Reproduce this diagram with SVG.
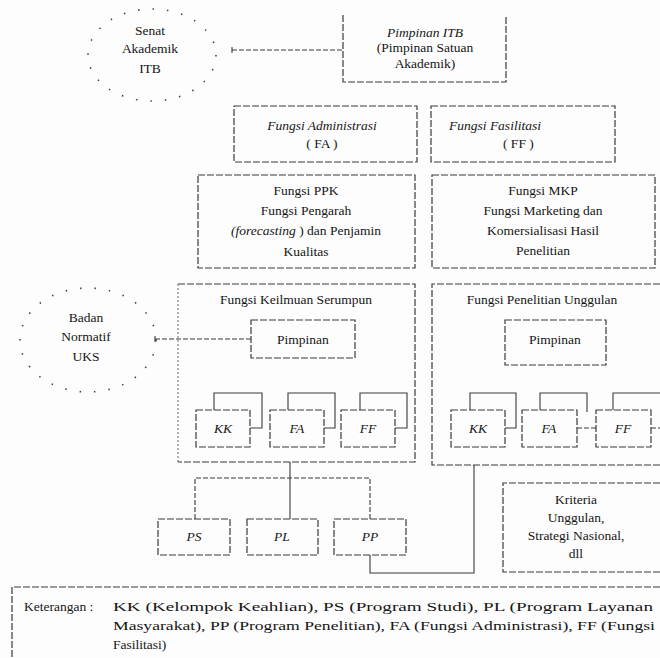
<svg xmlns="http://www.w3.org/2000/svg" width="660" height="658" viewBox="0 0 660 658">
<style>
text{font-family:"Liberation Serif","Times New Roman",serif;fill:#151515;font-size:13.5px}
.c{text-anchor:middle}
.i{font-style:italic}
.b{fill:none;stroke:#3a3a3a;stroke-width:1.2;stroke-dasharray:7 2}
.s{fill:none;stroke:#666;stroke-width:1;stroke-dasharray:2 2}
.ln{fill:none;stroke:#3a3a3a;stroke-width:1.1;stroke-dasharray:5 2}
.sol{fill:none;stroke:#3a3a3a;stroke-width:1.1}
.dot{fill:none;stroke:#444;stroke-width:1.6;stroke-dasharray:1.5 13}
</style>
<rect width="660" height="658" fill="#fdfdfd"/>

<g id="connectors">
  <path class="ln" d="M232 50 H343"/>
  <path class="sol" d="M232 47 V53"/>
  <path class="ln" d="M155 339 H251"/>
  <path class="sol" d="M155 336 V342"/>
  <path class="sol" d="M214 410 V393 H262 V428 H250"/>
  <path class="sol" d="M288 410 V393 H335 V428 H324"/>
  <path class="sol" d="M360 410 V393 H407 V428 H395"/>
  <path class="sol" d="M470 410 V393 H516 V428 H505"/>
  <path class="sol" d="M540 410 V393 H587 V412"/>
  <path class="ln" d="M577 428 H596"/>
  <path class="sol" d="M613 410 V393 H660"/>
  <path class="ln" d="M651 428 H660"/>
  <path class="sol" d="M290 462 V519"/>
  <path class="ln" d="M195 519 V478 H370 V519"/>
  <path class="sol" d="M370 555 V573 H474 V465"/>
</g>

<g id="senat">
  <ellipse class="dot" cx="152" cy="55" rx="64" ry="46"/>
  <text class="c" x="150" y="35">Senat</text>
  <text class="c" x="150" y="53">Akademik</text>
  <text class="c" x="150" y="73">ITB</text>
</g>

<g id="pimpinan-itb">
  <path class="b" d="M343 15 V82 H506 V15"/>
  <text class="c i" x="425" y="37">Pimpinan ITB</text>
  <text class="c" x="425" y="52">(Pimpinan Satuan</text>
  <text class="c" x="425" y="68">Akademik)</text>
</g>

<g id="fa">
  <rect class="b" x="234" y="106" width="183" height="56"/>
  <text class="c i" x="322" y="130">Fungsi Administrasi</text>
  <text class="c" x="322" y="148">( FA )</text>
</g>

<g id="ff">
  <rect class="b" x="431" y="106" width="184" height="56"/>
  <text class="i" x="449" y="130">Fungsi Fasilitasi</text>
  <text x="503" y="148">( FF )</text>
</g>

<g id="ppk">
  <rect class="b" x="198" y="175" width="217" height="93"/>
  <text class="c" x="306" y="195">Fungsi PPK</text>
  <text class="c" x="306" y="215">Fungsi Pengarah</text>
  <text class="c" x="306" y="235"><tspan class="i">(forecasting</tspan> ) dan Penjamin</text>
  <text class="c" x="306" y="256">Kualitas</text>
</g>

<g id="mkp">
  <rect class="b" x="432" y="175" width="223" height="93"/>
  <text class="c" x="543" y="195">Fungsi MKP</text>
  <text class="c" x="543" y="215">Fungsi Marketing dan</text>
  <text class="c" x="543" y="235">Komersialisasi Hasil</text>
  <text class="c" x="543" y="255">Penelitian</text>
</g>

<g id="badan-normatif">
  <ellipse class="dot" cx="88" cy="340" rx="68" ry="52"/>
  <text class="c" x="86" y="322">Badan</text>
  <text class="c" x="86" y="341">Normatif</text>
  <text class="c" x="86" y="361">UKS</text>
</g>

<g id="fungsi-keilmuan">
  <path class="b" d="M178 284 H415 V462 H178"/>
  <path class="s" d="M178 284 V462"/>
  <text class="c" x="296" y="304">Fungsi Keilmuan Serumpun</text>
</g>
<g id="pimpinan-left">
  <rect class="b" x="251" y="320" width="104" height="38"/>
  <text class="c" x="303" y="344">Pimpinan</text>
</g>
<g id="kk-left">
  <rect class="b" x="196" y="410" width="54" height="37"/>
  <text class="c i" x="223" y="433">KK</text>
</g>
<g id="fa-left">
  <rect class="b" x="270" y="410" width="54" height="37"/>
  <text class="c i" x="297" y="433">FA</text>
</g>
<g id="ff-left">
  <rect class="b" x="341" y="410" width="54" height="37"/>
  <text class="c i" x="368" y="433">FF</text>
</g>

<g id="fungsi-penelitian">
  <path class="b" d="M660 284 H432 V465 H660"/>
  <text class="c" x="542" y="304">Fungsi Penelitian Unggulan</text>
</g>
<g id="pimpinan-right">
  <rect class="b" x="505" y="320" width="101" height="45"/>
  <text class="c" x="555" y="344">Pimpinan</text>
</g>
<g id="kk-right">
  <rect class="b" x="451" y="410" width="54" height="37"/>
  <text class="c i" x="478" y="433">KK</text>
</g>
<g id="fa-right">
  <rect class="b" x="522" y="410" width="55" height="37"/>
  <text class="c i" x="549" y="433">FA</text>
</g>
<g id="ff-right">
  <rect class="b" x="596" y="410" width="55" height="37"/>
  <text class="c i" x="623" y="433">FF</text>
</g>

<g id="ps">
  <rect class="b" x="158" y="519" width="72" height="36"/>
  <text class="c i" x="194" y="541">PS</text>
</g>
<g id="pl">
  <rect class="b" x="247" y="519" width="71" height="36"/>
  <text class="c i" x="282" y="541">PL</text>
</g>
<g id="pp">
  <rect class="b" x="334" y="519" width="72" height="36"/>
  <text class="c i" x="370" y="541">PP</text>
</g>

<g id="kriteria">
  <path class="b" d="M660 483 H503 V572 H660"/>
  <text class="c" x="576" y="504">Kriteria</text>
  <text class="c" x="576" y="522">Unggulan,</text>
  <text class="c" x="576" y="540">Strategi Nasional,</text>
  <text class="c" x="576" y="558">dll</text>
</g>

<g id="keterangan">
  <path class="b" d="M660 587 H12 V658"/>
  <text x="24" y="611">Keterangan :</text>
  <text x="113" y="611" textLength="540" lengthAdjust="spacingAndGlyphs">KK (Kelompok Keahlian), PS (Program Studi), PL (Program Layanan</text>
  <text x="113" y="630" textLength="542" lengthAdjust="spacingAndGlyphs">Masyarakat),  PP (Program Penelitian), FA (Fungsi Administrasi), FF (Fungsi</text>
  <text x="113" y="649">Fasilitasi)</text>
</g>
</svg>
